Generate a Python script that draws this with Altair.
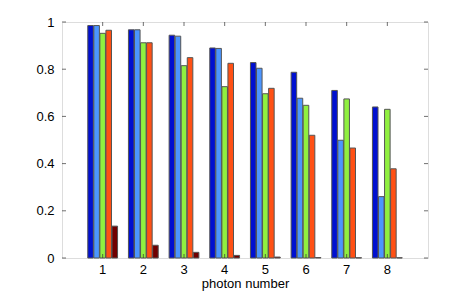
import altair as alt
import pandas as pd

photon = [1, 2, 3, 4, 5, 6, 7, 8]
series = ["s1", "s2", "s3", "s4", "s5"]
colors = ["#0010d0", "#4c96ff", "#90f040", "#ff5014", "#700000"]
s1 = [0.985, 0.967, 0.944, 0.890, 0.828, 0.787, 0.710, 0.640]
s2 = [0.985, 0.967, 0.940, 0.888, 0.804, 0.677, 0.499, 0.260]
s3 = [0.952, 0.912, 0.815, 0.726, 0.696, 0.647, 0.674, 0.630]
s4 = [0.965, 0.912, 0.849, 0.825, 0.719, 0.520, 0.466, 0.378]
s5 = [0.135, 0.054, 0.024, 0.011, 0.004, 0.002, 0.001, 0.001]
y_ticks = [0, 0.2, 0.4, 0.6, 0.8, 1.0]

rows = []
for name, vals in zip(series, [s1, s2, s3, s4, s5]):
    for p, v in zip(photon, vals):
        rows.append({"photon": p, "series": name, "value": v})
df = pd.DataFrame(rows)

W, H = 366, 236
FONT = "Liberation Sans"
frame = "#333333"

xscale = alt.Scale(paddingInner=0, paddingOuter=0.5)
yscale = alt.Scale(domain=[0, 1], nice=False, zero=True)

xaxis = alt.Axis(title="photon number", labelAngle=0, ticks=False, domain=False,
                 labelPadding=5, titlePadding=1, labelFont=FONT, titleFont=FONT,
                 labelFontSize=13, titleFontSize=13, titleFontWeight="normal",
                 labelColor="black", titleColor="black")
yaxis = alt.Axis(title=None, values=y_ticks, format="~g", ticks=False, domain=False,
                 grid=False, labelPadding=8, labelFont=FONT, labelFontSize=13,
                 labelColor="black")

bars = alt.Chart(df).mark_bar(stroke="#555555", strokeWidth=1).encode(
    x=alt.X("photon:O", scale=xscale, axis=xaxis, title="photon number"),
    xOffset=alt.XOffset("series:N", sort=series,
                        scale=alt.Scale(paddingInner=0.08, paddingOuter=0.9)),
    y=alt.Y("value:Q", scale=yscale, axis=yaxis, title=None),
    color=alt.Color("series:N", scale=alt.Scale(domain=series, range=colors), legend=None),
)

xt = pd.DataFrame({"photon": photon})
yt = pd.DataFrame({"value": y_ticks})

xb = alt.Chart(xt).mark_tick(orient="vertical", size=4, thickness=1, color=frame).encode(
    x=alt.X("photon:O", scale=xscale, axis=xaxis, title="photon number"), y=alt.value(H - 2))
xtp = alt.Chart(xt).mark_tick(orient="vertical", size=4, thickness=1, color=frame).encode(
    x=alt.X("photon:O", scale=xscale, axis=xaxis, title="photon number"), y=alt.value(2))
yl = alt.Chart(yt).mark_tick(orient="horizontal", size=4, thickness=1, color=frame).encode(
    y=alt.Y("value:Q", scale=yscale, axis=yaxis, title=None), x=alt.value(2))
yr = alt.Chart(yt).mark_tick(orient="horizontal", size=4, thickness=1, color=frame).encode(
    y=alt.Y("value:Q", scale=yscale, axis=yaxis, title=None), x=alt.value(W - 2))

chart = alt.layer(bars, xb, xtp, yl, yr).properties(
    width=W, height=H,
    autosize=alt.AutoSizeParams(type="none"),
    padding={"left": 54, "top": 14, "right": 30, "bottom": 36},
).configure_view(stroke=frame, strokeWidth=1).configure(background="white")

chart.save("out.html", embed_options={"renderer": "svg", "actions": False})
